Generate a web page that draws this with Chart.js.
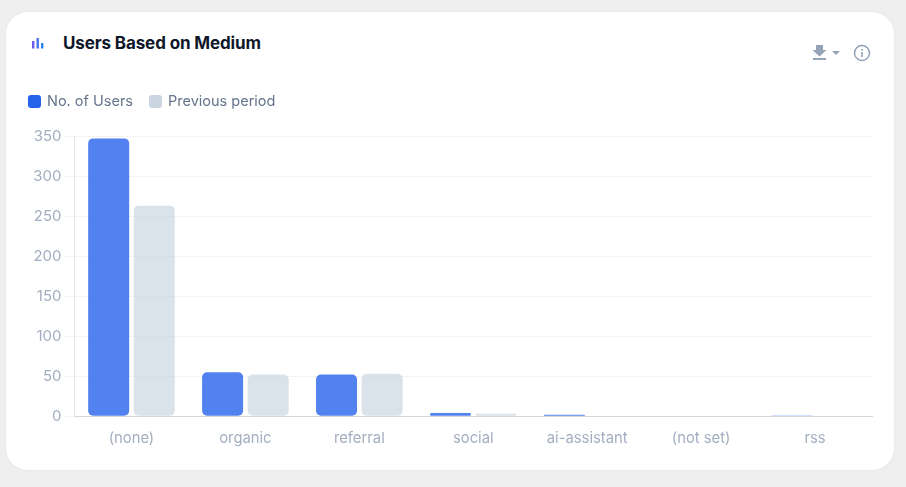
<!DOCTYPE html>
<html><head><meta charset="utf-8">
<script src="https://cdn.jsdelivr.net/npm/chart.js@4"></script>
<style>
html,body{margin:0;padding:0;width:906px;height:487px;overflow:hidden;background:#efefef;font-family:Inter,sans-serif}
#card{position:absolute;left:6px;top:12px;width:888px;height:458px;background:#fff;border-radius:22px;box-shadow:0 0 4px rgba(0,0,0,.04)}
#title{position:absolute;left:63px;top:33px;font:700 17px/20px Inter,sans-serif;color:#0f172a;letter-spacing:-.12px}
#icons{position:absolute;left:0;top:0}
canvas#c{position:absolute;left:0;top:0}
</style></head><body>
<div id="card"></div>
<div id="title">Users Based on Medium</div>
<svg id="icons" width="906" height="487">
<rect x="32" y="41" width="2.4" height="7.5" fill="#6d5cf0"/><rect x="36.5" y="38" width="2.4" height="10.5" fill="#4a72ee"/><rect x="41" y="43" width="2.4" height="5.5" fill="#2f80ed"/>
<path d="M816 45h7v5h3.5l-7 6.5-7-6.5h3.5z" fill="#94a3b8"/><rect x="813" y="58" width="13" height="2" fill="#94a3b8"/>
<path d="M832 51h8l-4 4z" fill="#94a3b8"/>
<circle cx="862" cy="53" r="7.5" fill="none" stroke="#94a3b8" stroke-width="1.5"/><rect x="861.2" y="52" width="1.6" height="5" fill="#94a3b8"/><rect x="861.2" y="49" width="1.6" height="1.7" fill="#94a3b8"/>
</svg>
<canvas id="c" width="906" height="487"></canvas>
<script>
const categories=["(none)","organic","referral","social","ai-assistant","(not set)","rss"];
const users=[347,55,52,4,2,0,1];
const previous=[263,52,53,3,0,0,0];
const seriesNames=["No. of Users","Previous period"];
const yTicks=[0,50,100,150,200,250,300,350];
const fontFam="Inter, sans-serif";
new Chart(document.getElementById('c'),{
 type:'bar',
 data:{labels:categories,datasets:[
  {label:seriesNames[0],data:users,backgroundColor:'rgba(37,99,235,0.8)',borderRadius:5,borderSkipped:false},
  {label:seriesNames[1],data:previous,backgroundColor:'rgba(203,213,225,0.7)',borderRadius:5,borderSkipped:false}
 ]},
 options:{
  responsive:false,animation:false,
  layout:{padding:{left:0,right:34,top:136,bottom:27}},
  plugins:{tooltip:{enabled:false},title:{display:false},legend:{display:false}},
  scales:{
   x:{
    grid:{display:false,drawTicks:false},
    border:{color:'#d5d9df',width:1},
    ticks:{color:'#a3aec0',font:{family:fontFam,size:14.8},padding:13,maxRotation:0}
   },
   y:{
    min:0,max:350,
    afterBuildTicks(s){s.ticks=yTicks.map(v=>({value:v}));},
    afterFit(s){s.width=74.5;},
    grid:{color:'#f1f3f5',tickLength:10},
    border:{color:'#e5e7eb',width:1},
    ticks:{color:'#a3aec0',font:{family:fontFam,size:15},padding:3}
   }
  }
 },
 plugins:[{id:'legendRow',
  afterDraw(ch){
   const c=ch.ctx;c.save();c.textBaseline='middle';c.font='14.5px '+fontFam;
   const items=[[28,seriesNames[0],'#2563eb'],[149,seriesNames[1],'#cbd5e1']];
   items.forEach(([x,t,col])=>{c.fillStyle=col;c.beginPath();c.roundRect(x,95,13,13,3);c.fill();c.fillStyle='#64748b';c.fillText(t,x+19,101.5);});
   c.restore();
  }}]
});
</script>
</body></html>
